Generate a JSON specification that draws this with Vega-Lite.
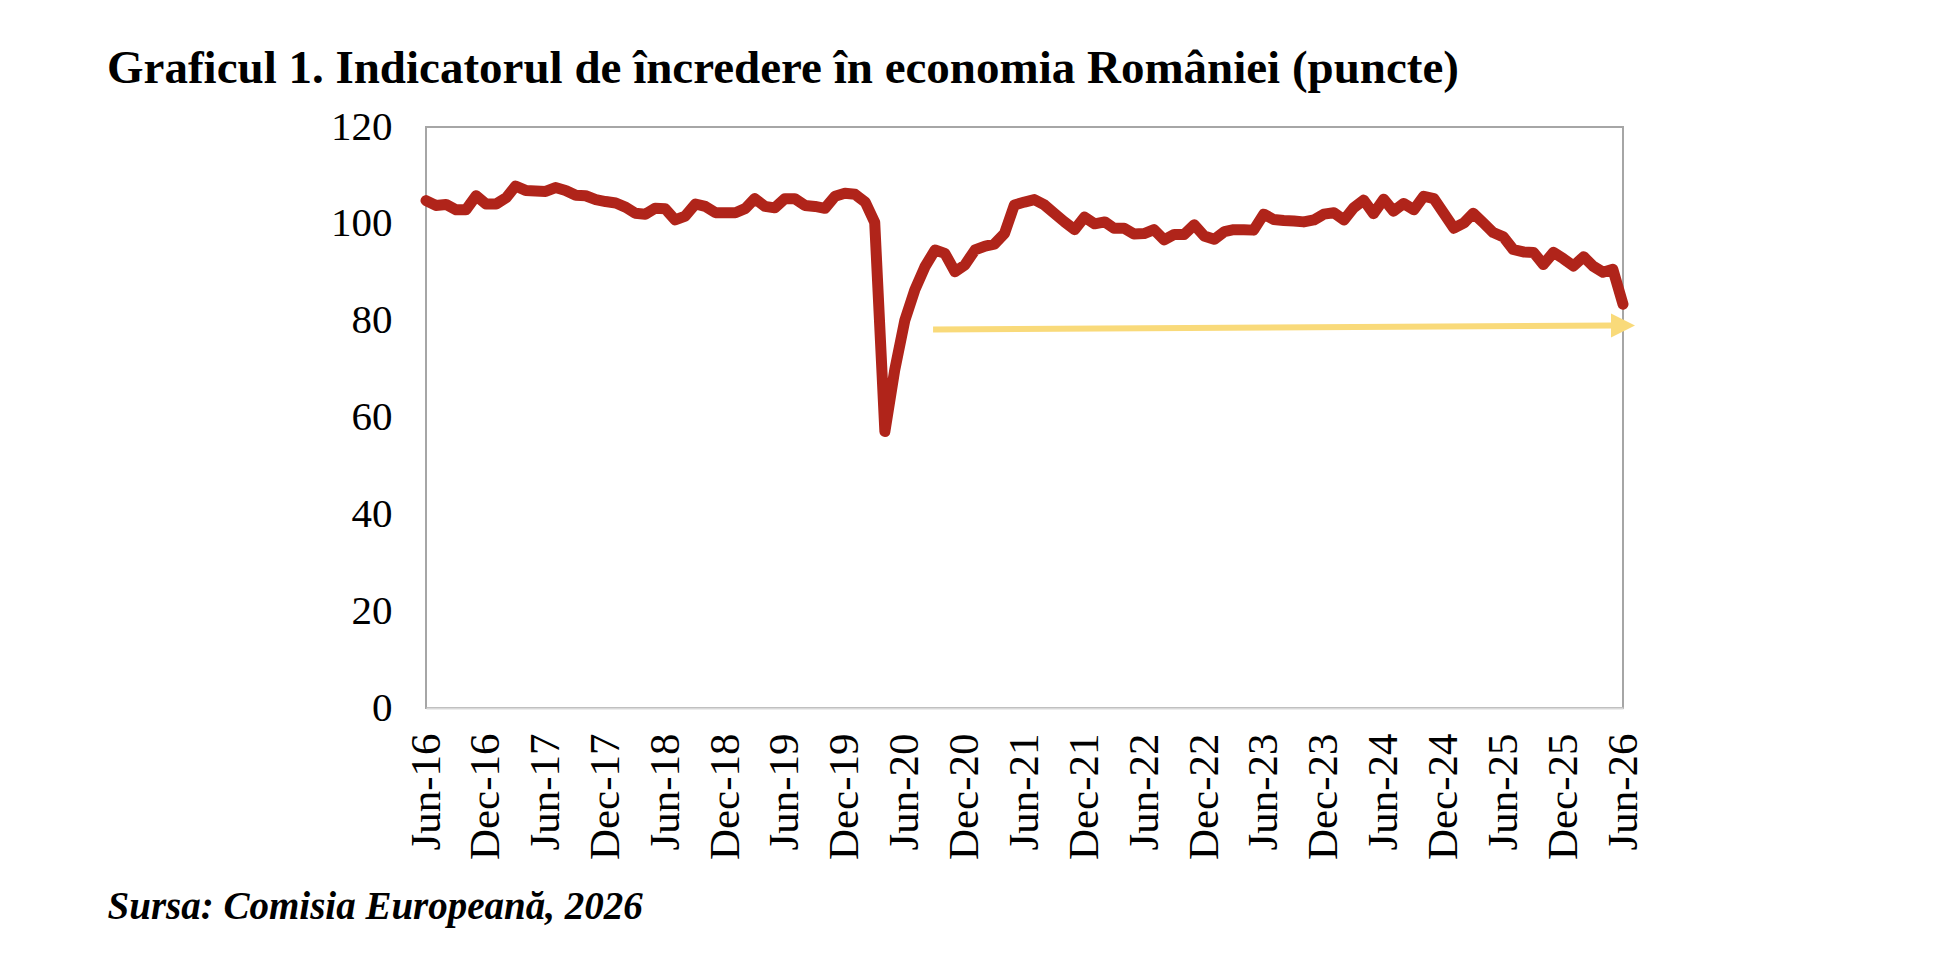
{
  "$schema": "https://vega.github.io/schema/vega-lite/v6.json",
  "autosize": "none",
  "width": 1197,
  "height": 581,
  "padding": {"left": 426, "top": 127, "right": 335, "bottom": 248},
  "background": "white",
  "title": {
    "text": "Graficul 1. Indicatorul de încredere în economia României (puncte)",
    "anchor": "start",
    "offset": -24,
    "baseline": "alphabetic",
    "font": "Liberation Serif",
    "fontSize": 47,
    "fontWeight": "bold",
    "color": "#000000"
  },
  "config": {
    "view": {"stroke": "#A6A6A6", "strokeWidth": 2},
    "axis": {"labelFont": "Liberation Serif", "labelColor": "#000000", "grid": false, "ticks": false}
  },
  "layer": [
    {
      "data": {"values": [
        {"date": "2016-06-01", "value": 104.8},
        {"date": "2016-07-01", "value": 103.8},
        {"date": "2016-08-01", "value": 104.0},
        {"date": "2016-09-01", "value": 102.9},
        {"date": "2016-10-01", "value": 102.9},
        {"date": "2016-11-01", "value": 105.8},
        {"date": "2016-12-01", "value": 104.1},
        {"date": "2017-01-01", "value": 104.1},
        {"date": "2017-02-01", "value": 105.4},
        {"date": "2017-03-01", "value": 107.8},
        {"date": "2017-04-01", "value": 106.9},
        {"date": "2017-05-01", "value": 106.8},
        {"date": "2017-06-01", "value": 106.7},
        {"date": "2017-07-01", "value": 107.5},
        {"date": "2017-08-01", "value": 106.9},
        {"date": "2017-09-01", "value": 105.9},
        {"date": "2017-10-01", "value": 105.8},
        {"date": "2017-11-01", "value": 105.0},
        {"date": "2017-12-01", "value": 104.6},
        {"date": "2018-01-01", "value": 104.3},
        {"date": "2018-02-01", "value": 103.4},
        {"date": "2018-03-01", "value": 102.2},
        {"date": "2018-04-01", "value": 102.0},
        {"date": "2018-05-01", "value": 103.2},
        {"date": "2018-06-01", "value": 103.1},
        {"date": "2018-07-01", "value": 100.8},
        {"date": "2018-08-01", "value": 101.6},
        {"date": "2018-09-01", "value": 104.1},
        {"date": "2018-10-01", "value": 103.6},
        {"date": "2018-11-01", "value": 102.3},
        {"date": "2018-12-01", "value": 102.3},
        {"date": "2019-01-01", "value": 102.3},
        {"date": "2019-02-01", "value": 103.2},
        {"date": "2019-03-01", "value": 105.2},
        {"date": "2019-04-01", "value": 103.6},
        {"date": "2019-05-01", "value": 103.3},
        {"date": "2019-06-01", "value": 105.2},
        {"date": "2019-07-01", "value": 105.2},
        {"date": "2019-08-01", "value": 103.8},
        {"date": "2019-09-01", "value": 103.6},
        {"date": "2019-10-01", "value": 103.2},
        {"date": "2019-11-01", "value": 105.7},
        {"date": "2019-12-01", "value": 106.3},
        {"date": "2020-01-01", "value": 106.1},
        {"date": "2020-02-01", "value": 104.5},
        {"date": "2020-03-01", "value": 100.3},
        {"date": "2020-04-01", "value": 57.1},
        {"date": "2020-05-01", "value": 69.8},
        {"date": "2020-06-01", "value": 80.1},
        {"date": "2020-07-01", "value": 86.3},
        {"date": "2020-08-01", "value": 91.1},
        {"date": "2020-09-01", "value": 94.6},
        {"date": "2020-10-01", "value": 93.9},
        {"date": "2020-11-01", "value": 90.1},
        {"date": "2020-12-01", "value": 91.5},
        {"date": "2021-01-01", "value": 94.6},
        {"date": "2021-02-01", "value": 95.4},
        {"date": "2021-03-01", "value": 95.8},
        {"date": "2021-04-01", "value": 98.0},
        {"date": "2021-05-01", "value": 103.9},
        {"date": "2021-06-01", "value": 104.5},
        {"date": "2021-07-01", "value": 105.0},
        {"date": "2021-08-01", "value": 103.9},
        {"date": "2021-09-01", "value": 102.1},
        {"date": "2021-10-01", "value": 100.4},
        {"date": "2021-11-01", "value": 98.8},
        {"date": "2021-12-01", "value": 101.4},
        {"date": "2022-01-01", "value": 100.0},
        {"date": "2022-02-01", "value": 100.4},
        {"date": "2022-03-01", "value": 99.1},
        {"date": "2022-04-01", "value": 99.1},
        {"date": "2022-05-01", "value": 97.9},
        {"date": "2022-06-01", "value": 98.0},
        {"date": "2022-07-01", "value": 98.8},
        {"date": "2022-08-01", "value": 96.7},
        {"date": "2022-09-01", "value": 97.8},
        {"date": "2022-10-01", "value": 97.8},
        {"date": "2022-11-01", "value": 99.8},
        {"date": "2022-12-01", "value": 97.5},
        {"date": "2023-01-01", "value": 96.8},
        {"date": "2023-02-01", "value": 98.4},
        {"date": "2023-03-01", "value": 98.8},
        {"date": "2023-04-01", "value": 98.8},
        {"date": "2023-05-01", "value": 98.7},
        {"date": "2023-06-01", "value": 102.0},
        {"date": "2023-07-01", "value": 100.9},
        {"date": "2023-08-01", "value": 100.7},
        {"date": "2023-09-01", "value": 100.6},
        {"date": "2023-10-01", "value": 100.4},
        {"date": "2023-11-01", "value": 100.8},
        {"date": "2023-12-01", "value": 102.0},
        {"date": "2024-01-01", "value": 102.3},
        {"date": "2024-02-01", "value": 100.8},
        {"date": "2024-03-01", "value": 103.3},
        {"date": "2024-04-01", "value": 104.9},
        {"date": "2024-05-01", "value": 102.1},
        {"date": "2024-06-01", "value": 105.1},
        {"date": "2024-07-01", "value": 102.6},
        {"date": "2024-08-01", "value": 104.2},
        {"date": "2024-09-01", "value": 102.9},
        {"date": "2024-10-01", "value": 105.7},
        {"date": "2024-11-01", "value": 105.2},
        {"date": "2024-12-01", "value": 102.2},
        {"date": "2025-01-01", "value": 99.1},
        {"date": "2025-02-01", "value": 100.2},
        {"date": "2025-03-01", "value": 102.2},
        {"date": "2025-04-01", "value": 100.2},
        {"date": "2025-05-01", "value": 98.2},
        {"date": "2025-06-01", "value": 97.3},
        {"date": "2025-07-01", "value": 94.7},
        {"date": "2025-08-01", "value": 94.2},
        {"date": "2025-09-01", "value": 94.1},
        {"date": "2025-10-01", "value": 91.6},
        {"date": "2025-11-01", "value": 94.1},
        {"date": "2025-12-01", "value": 92.8},
        {"date": "2026-01-01", "value": 91.3},
        {"date": "2026-02-01", "value": 93.2},
        {"date": "2026-03-01", "value": 91.3},
        {"date": "2026-04-01", "value": 90.0},
        {"date": "2026-05-01", "value": 90.6},
        {"date": "2026-06-01", "value": 83.4}
      ]},
      "mark": {"type": "line", "color": "#B0241A", "strokeWidth": 11, "strokeJoin": "round", "strokeCap": "round"},
      "encoding": {
        "x": {
          "field": "date",
          "type": "temporal",
          "scale": {
            "type": "utc",
            "domain": [
              {"year": 2016, "month": 6, "date": 1, "utc": true},
              {"year": 2026, "month": 6, "date": 1, "utc": true}
            ]
          },
          "axis": {
            "values": [
              {"year": 2016, "month": 6, "date": 1, "utc": true},
              {"year": 2016, "month": 12, "date": 1, "utc": true},
              {"year": 2017, "month": 6, "date": 1, "utc": true},
              {"year": 2017, "month": 12, "date": 1, "utc": true},
              {"year": 2018, "month": 6, "date": 1, "utc": true},
              {"year": 2018, "month": 12, "date": 1, "utc": true},
              {"year": 2019, "month": 6, "date": 1, "utc": true},
              {"year": 2019, "month": 12, "date": 1, "utc": true},
              {"year": 2020, "month": 6, "date": 1, "utc": true},
              {"year": 2020, "month": 12, "date": 1, "utc": true},
              {"year": 2021, "month": 6, "date": 1, "utc": true},
              {"year": 2021, "month": 12, "date": 1, "utc": true},
              {"year": 2022, "month": 6, "date": 1, "utc": true},
              {"year": 2022, "month": 12, "date": 1, "utc": true},
              {"year": 2023, "month": 6, "date": 1, "utc": true},
              {"year": 2023, "month": 12, "date": 1, "utc": true},
              {"year": 2024, "month": 6, "date": 1, "utc": true},
              {"year": 2024, "month": 12, "date": 1, "utc": true},
              {"year": 2025, "month": 6, "date": 1, "utc": true},
              {"year": 2025, "month": 12, "date": 1, "utc": true},
              {"year": 2026, "month": 6, "date": 1, "utc": true}
            ],
            "format": "%b-%y",
            "labelAngle": -90,
            "labelFontSize": 43,
            "labelPadding": 25,
            "labelFlush": false,
            "labelOverlap": false,
            "labelBound": false,
            "domainColor": "#D9D9D9",
            "domainWidth": 2,
            "title": "Sursa: Comisia Europeană, 2026",
            "titleFont": "Liberation Serif",
            "titleFontSize": 39,
            "titleFontWeight": "bold",
            "titleFontStyle": "italic",
            "titleColor": "#000000",
            "titleAnchor": "start",
            "titleAlign": "left",
            "titleBaseline": "alphabetic",
            "titleX": -319,
            "titleY": 210
          }
        },
        "y": {
          "field": "value",
          "type": "quantitative",
          "scale": {"domain": [0, 120], "nice": false, "zero": true},
          "axis": {
            "values": [0, 20, 40, 60, 80, 100, 120],
            "labelFontSize": 41,
            "labelPadding": 34,
            "domain": false,
            "title": null
          }
        }
      }
    },
    {
      "data": {"values": [
        {"date": "2020-08-26", "value": 78.2},
        {"date": "2026-05-01", "value": 79.0}
      ]},
      "mark": {"type": "line", "color": "#F9DA7A", "strokeWidth": 6},
      "encoding": {
        "x": {"field": "date", "type": "temporal"},
        "y": {"field": "value", "type": "quantitative"}
      }
    },
    {
      "data": {"values": [
        {"date": "2026-06-01", "value": 79.0}
      ]},
      "mark": {"type": "point", "shape": "M-1,-1L1,0L-1,1Z", "filled": true, "color": "#F9DA7A", "opacity": 1, "size": 576},
      "encoding": {
        "x": {"field": "date", "type": "temporal"},
        "y": {"field": "value", "type": "quantitative"}
      }
    }
  ]
}
